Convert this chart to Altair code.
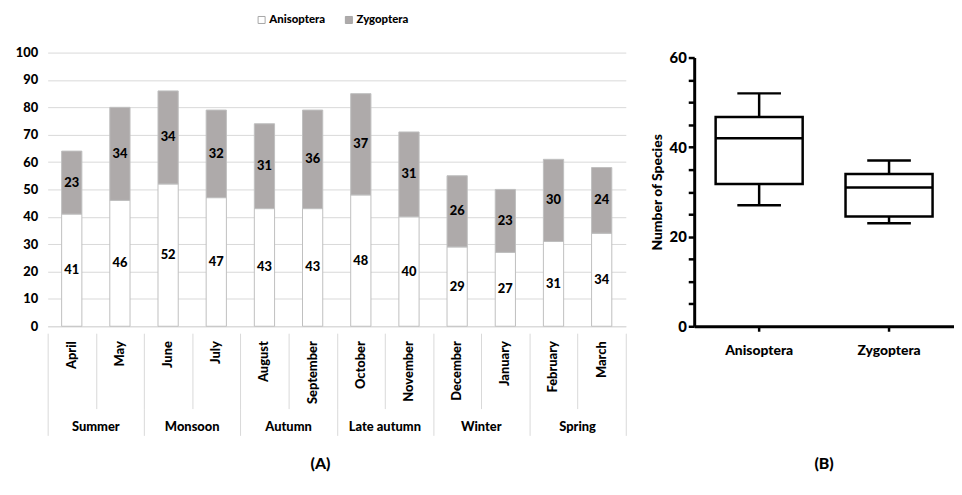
import altair as alt
import pandas as pd
import numpy as np

# ---------------- data ----------------
months = ["April", "May", "June", "July", "August", "September", "October",
          "November", "December", "January", "February", "March"]
seasons = ["Summer", "Monsoon", "Autumn", "Late autumn", "Winter", "Spring"]
anisoptera = [41, 46, 52, 47, 43, 43, 48, 40, 29, 27, 31, 34]
zygoptera = [23, 34, 34, 32, 31, 36, 37, 31, 26, 23, 30, 24]
groups = ["Anisoptera", "Zygoptera"]
y_ticks_a = list(range(0, 101, 10))
y_ticks_b = list(range(0, 61, 5))

FONT = "Lato"
FW = 900
GRID = "#D9D9D9"
GREY = "#AEAAAA"

long = pd.DataFrame({
    "month": months * 2,
    "group": [groups[0]] * len(months) + [groups[1]] * len(months),
    "count": anisoptera + zygoptera,
    "order": [0] * len(months) + [1] * len(months),
})

# ---------------- panel A ----------------
W_A, H_A = 583, 276

band_months = alt.Scale(domain=months, paddingInner=0, paddingOuter=0)
ya_axis = alt.Axis(values=y_ticks_a, domain=False, ticks=False, grid=True,
                   gridColor=GRID, gridWidth=1, labelFont=FONT, labelFontWeight=FW,
                   labelFontSize=13, labelColor="black", labelPadding=10, title=None)
xa_axis = alt.Axis(labels=False, ticks=False, domain=True, domainColor=GRID,
                   domainWidth=1, grid=False, title=None)

base = alt.Chart(long)
bars = base.mark_bar(stroke="#BFBFBF", strokeWidth=1, width={"band": 0.42}).encode(
    x=alt.X("month:N", sort=months, scale=band_months, axis=xa_axis),
    y=alt.Y("count:Q", stack="zero", scale=alt.Scale(domain=[0, 100], nice=False), axis=ya_axis),
    fill=alt.Fill("group:N", scale=alt.Scale(domain=groups, range=["#FFFFFF", GREY]),
                  legend=alt.Legend(orient="none", legendX=210, legendY=-39, direction="horizontal",
                                    title=None, symbolType="square", symbolSize=50,
                                    symbolStrokeColor="#A6A6A6", symbolStrokeWidth=1,
                                    labelFont=FONT, labelFontWeight=FW, labelFontSize=11.5,
                                    labelColor="black", labelOffset=2, columnPadding=18)),
    order=alt.Order("order:Q"),
)
labels = base.transform_stack(
    stack="count", groupby=["month"], as_=["y0", "y1"], sort=[alt.SortField("order")]
).transform_calculate(mid="(datum.y0 + datum.y1) / 2").mark_text(
    font=FONT, fontWeight=FW, fontSize=13, color="black"
).encode(
    x=alt.X("month:N", sort=months, scale=band_months, axis=xa_axis),
    y=alt.Y("mid:Q", scale=alt.Scale(domain=[0, 100], nice=False), axis=ya_axis),
    text="count:Q",
)
bar_chart = alt.layer(bars, labels).properties(width=W_A, height=H_A)

grid_axis = dict(labels=False, ticks=False, domain=False, title=None, grid=True,
                 gridColor=GRID, gridWidth=1, tickBand="extent")

month_row = alt.Chart(pd.DataFrame({"month": months})).mark_text(
    angle=270, align="right", baseline="middle", font=FONT, fontWeight=FW,
    fontSize=13, color="black"
).encode(
    x=alt.X("month:N", sort=months, scale=band_months, axis=alt.Axis(**grid_axis)),
    y=alt.value(8),
    text="month:N",
).properties(width=W_A, height=76)

season_row = alt.Chart(pd.DataFrame({"season": seasons})).mark_text(
    align="center", baseline="middle", font=FONT, fontWeight=FW,
    fontSize=13, color="black"
).encode(
    x=alt.X("season:N", sort=seasons,
            scale=alt.Scale(domain=seasons, paddingInner=0, paddingOuter=0),
            axis=alt.Axis(**grid_axis)),
    y=alt.value(19),
    text="season:N",
).properties(width=W_A, height=27)

panel_a = alt.vconcat(bar_chart, month_row, season_row, spacing=0).properties(
    title=alt.Title("(A)", orient="bottom", anchor="middle", font=FONT, fontSize=16,
                    fontWeight=FW, color="black", offset=21)
)

# ---------------- panel B ----------------
series_b = [anisoptera, zygoptera]
stats = pd.DataFrame({
    "group": groups,
    "min": [min(s) for s in series_b],
    "q1": [float(np.percentile(s, 25, method="weibull")) for s in series_b],
    "median": [float(np.percentile(s, 50, method="weibull")) for s in series_b],
    "q3": [float(np.percentile(s, 75, method="weibull")) for s in series_b],
    "max": [max(s) for s in series_b],
})

W_B, H_B = 262, 276
xb = alt.X("group:N", sort=groups, scale=alt.Scale(domain=groups, paddingInner=0, paddingOuter=0),
           axis=alt.Axis(domainColor="black", domainWidth=3, tickColor="black", tickWidth=2.5,
                         tickSize=5, labelAngle=0, labelFont=FONT, labelFontWeight=FW,
                         labelFontSize=14, labelColor="black", labelPadding=12, title=None))
yb_scale = alt.Scale(domain=[0, 60], nice=False, range=[H_B, 5])
yb_axis = alt.Axis(values=y_ticks_b, labelExpr="datum.value % 20 === 0 ? datum.label : ''",
                   labelOverlap=False, domainColor="black", domainWidth=3, tickColor="black",
                   tickWidth=2.5, tickSize=6, grid=False, labelFont=FONT, labelFontWeight=FW,
                   labelFontSize=15, labelColor="black", labelPadding=2,
                   title="Number of Species", titleFont=FONT, titleFontWeight=FW,
                   titleFontSize=14, titleColor="black", titlePadding=5)

bs = alt.Chart(stats)
whisk_hi = bs.mark_rule(color="black", strokeWidth=2.5).encode(
    x=xb, y=alt.Y("max:Q", scale=yb_scale, axis=yb_axis), y2="q3:Q")
whisk_lo = bs.mark_rule(color="black", strokeWidth=2.5).encode(
    x=xb, y=alt.Y("q1:Q", scale=yb_scale, axis=yb_axis), y2="min:Q")
box = bs.mark_bar(fill="white", stroke="black", strokeWidth=2.5, width={"band": 0.67}).encode(
    x=xb, y=alt.Y("q1:Q", scale=yb_scale, axis=yb_axis), y2="q3:Q")
median = bs.mark_tick(color="black", size=88, thickness=2.5, opacity=1).encode(
    x=xb, y=alt.Y("median:Q", scale=yb_scale, axis=yb_axis))
cap_hi = bs.mark_tick(color="black", size=44, thickness=2.5, opacity=1).encode(
    x=xb, y=alt.Y("max:Q", scale=yb_scale, axis=yb_axis))
cap_lo = bs.mark_tick(color="black", size=44, thickness=2.5, opacity=1).encode(
    x=xb, y=alt.Y("min:Q", scale=yb_scale, axis=yb_axis))

panel_b = alt.layer(whisk_hi, whisk_lo, box, median, cap_hi, cap_lo).properties(
    width=W_B, height=H_B,
    title=alt.Title("(B)", orient="bottom", anchor="middle", font=FONT, fontSize=16,
                    fontWeight=FW, color="black", offset=100)
)

chart = alt.hconcat(panel_a, panel_b, spacing=24).properties(
    padding={"left": 7, "top": 4, "right": 0, "bottom": 0},
    background="white",
).configure_view(stroke=None)

chart.save("out.html", embed_options={"renderer": "svg", "actions": False})
